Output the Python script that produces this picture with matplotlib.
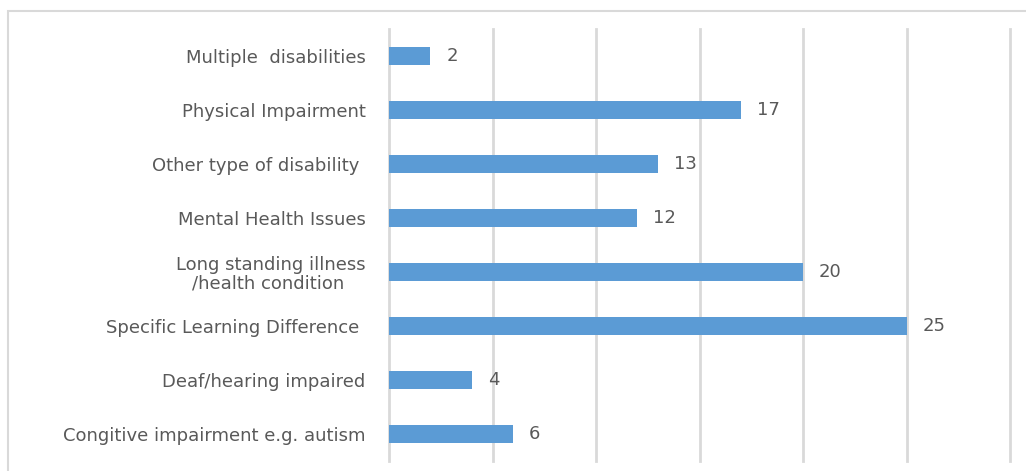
import matplotlib
matplotlib.use("Agg")
import matplotlib.pyplot as plt
from matplotlib.patches import Rectangle

plt.rcParams["font.family"] = ["DejaVu Sans"]

categories = [
    "Congitive impairment e.g. autism",
    "Deaf/hearing impaired",
    "Specific Learning Difference ",
    "Long standing illness\n/health condition ",
    "Mental Health Issues",
    "Other type of disability ",
    "Physical Impairment",
    "Multiple  disabilities",
]
counts = [6, 4, 25, 20, 12, 13, 17, 2]
x_ticks = [0, 5, 10, 15, 20, 25, 30]

bar_color = "#5B9BD5"
text_color = "#595959"
grid_color = "#D9D9D9"

W, H = 1026, 471
fig = plt.figure(figsize=(W / 100, H / 100), dpi=100)
fig.patch.set_facecolor("white")

# outer chart border
fig.patches.append(Rectangle((8 / W, -0.1), 1.2, (H - 11) / H + 0.1,
                             transform=fig.transFigure, fill=False,
                             edgecolor="#D9D9D9", linewidth=1.5))

ax = fig.add_axes([389 / W, 1 - 461 / H, (1010 - 389) / W, (461 - 29) / H])
y = list(range(len(categories)))
ax.barh(y, counts, height=0.35, color=bar_color, zorder=3)
ax.set_xlim(x_ticks[0], x_ticks[-1])
ax.set_ylim(-0.5, len(categories) - 0.5)
ax.set_xticks(x_ticks)
ax.set_xticklabels([])
ax.tick_params(axis="x", length=0)
ax.tick_params(axis="y", length=0, pad=17)
ax.set_yticks(y)
ax.set_yticklabels(categories, fontsize=13, color=text_color,
                   multialignment="center", linespacing=1.05)
for t in x_ticks:
    ax.axvline(t, color=grid_color, linewidth=2, zorder=0, clip_on=False)
for s in ax.spines.values():
    s.set_visible(False)

for yi, v in zip(y, counts):
    ax.annotate(str(v), (v, yi), xytext=(11.5, 0), textcoords="offset points",
                va="center", ha="left", fontsize=13, color=text_color)

fig.savefig("out.png", dpi=100, facecolor="white")
